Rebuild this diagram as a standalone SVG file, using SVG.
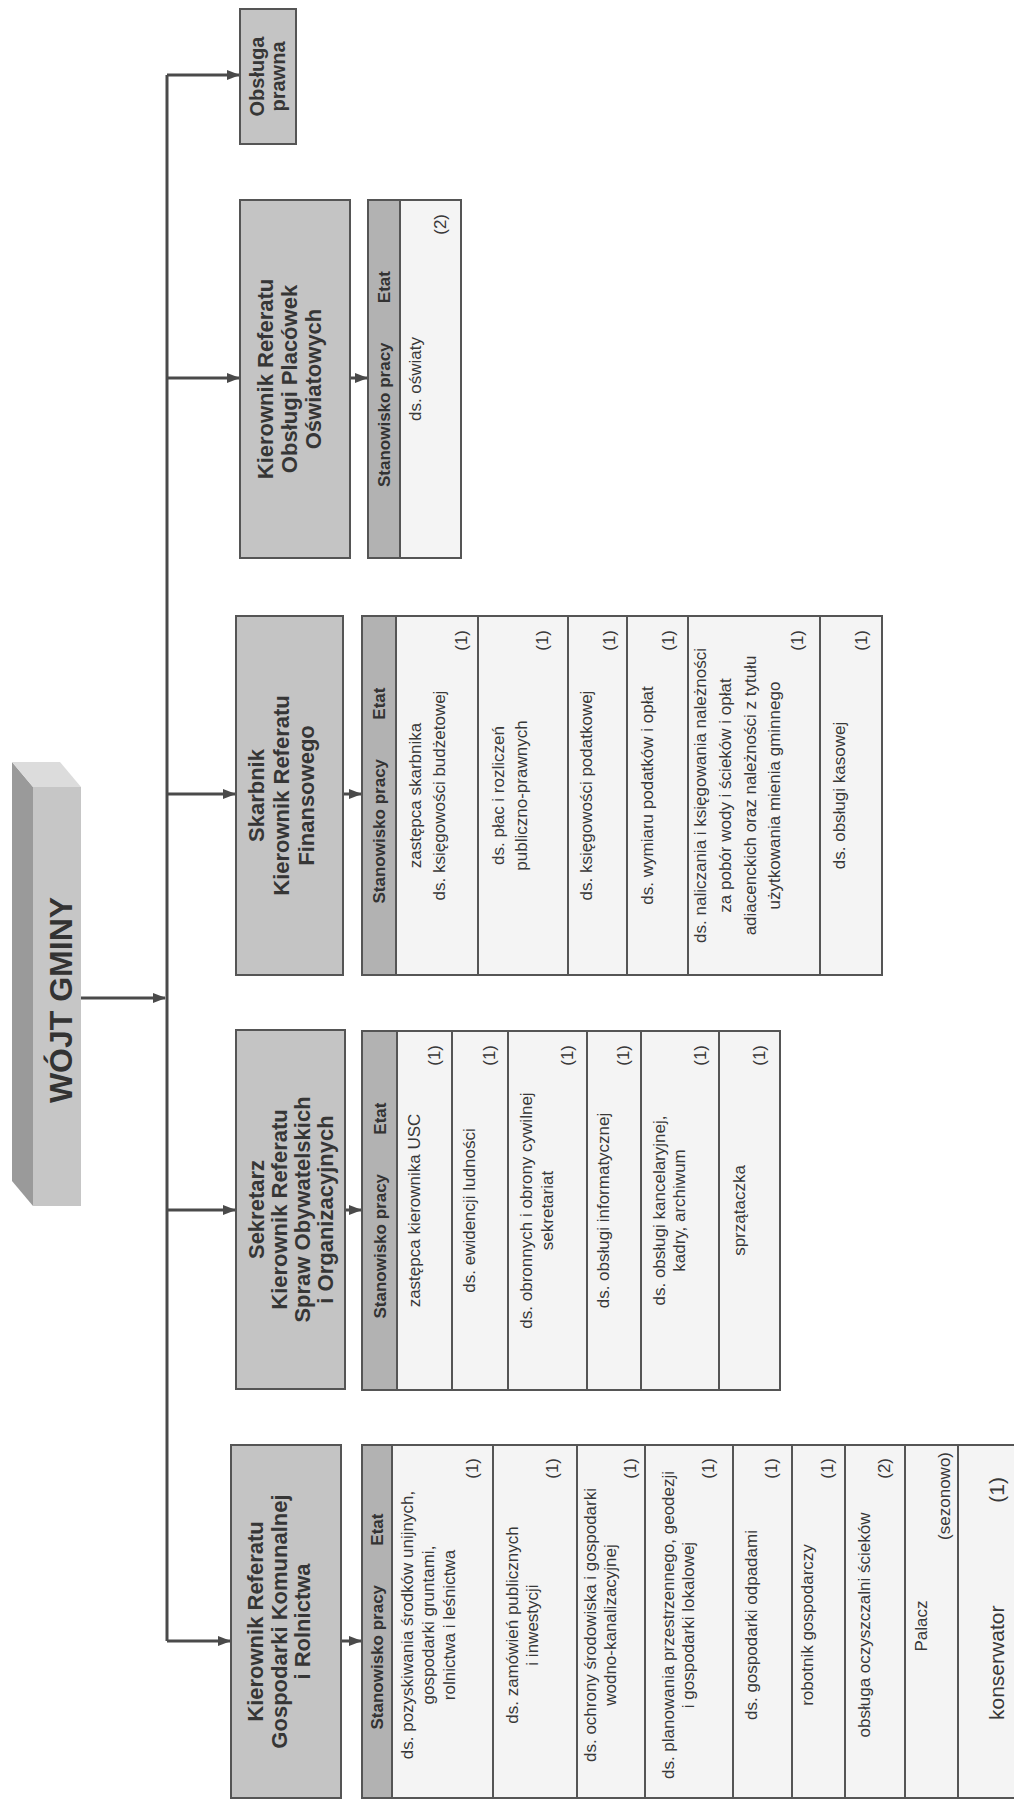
<svg xmlns="http://www.w3.org/2000/svg" width="1014" height="1801" viewBox="0 0 1014 1801">
<style>
.box{fill:#c4c4c4;stroke:#555;stroke-width:2}
.hdr{fill:#b2b2b2;stroke:#555;stroke-width:2}
.cell{fill:#f4f4f4;stroke:#555;stroke-width:2}
.sep{stroke:#555;stroke-width:2}
.conn{stroke:#4a4a4a;stroke-width:3;fill:none}
.t{font-family:"Liberation Sans",Arial,sans-serif;font-weight:bold;font-size:22px;fill:#363636;text-anchor:middle}
.h{font-family:"Liberation Sans",Arial,sans-serif;font-weight:bold;font-size:17px;fill:#333}
.b{font-family:"Liberation Sans",Arial,sans-serif;font-size:17px;fill:#383838;text-anchor:middle}
.n{font-family:"Liberation Sans",Arial,sans-serif;font-size:17px;fill:#383838;text-anchor:end}
</style>
<defs>
<marker id="arr" markerUnits="userSpaceOnUse" markerWidth="13" markerHeight="10" refX="12" refY="5" orient="auto"><path d="M0,0 L13,5 L0,10 z" fill="#4a4a4a"/></marker>
</defs>
<rect x="0" y="0" width="1014" height="1801" fill="#fff"/>
<g transform="translate(0,1801) rotate(-90)">

<g id="connectors">
<line class="conn" x1="160" y1="167" x2="1726" y2="167"/>
<line class="conn" x1="803" y1="81" x2="803" y2="165" marker-end="url(#arr)"/>
<line class="conn" x1="1726" y1="167" x2="1726" y2="239" marker-end="url(#arr)"/>
<line class="conn" x1="1423" y1="167" x2="1423" y2="239" marker-end="url(#arr)"/>
<line class="conn" x1="1007" y1="167" x2="1007" y2="235" marker-end="url(#arr)"/>
<line class="conn" x1="591" y1="167" x2="591" y2="235" marker-end="url(#arr)"/>
<line class="conn" x1="160" y1="167" x2="160" y2="230" marker-end="url(#arr)"/>
<line class="conn" x1="1423" y1="351" x2="1423" y2="367" marker-end="url(#arr)"/>
<line class="conn" x1="1007" y1="344" x2="1007" y2="361" marker-end="url(#arr)"/>
<line class="conn" x1="591" y1="346" x2="591" y2="361" marker-end="url(#arr)"/>
<line class="conn" x1="160" y1="342" x2="160" y2="361" marker-end="url(#arr)"/>
</g>

<g id="wojt">
<polygon points="1014,33 1039,12 620,12 595,33" fill="#9a9a9a"/>
<polygon points="1014,33 1014,81 1039,60 1039,12" fill="#dcdcdc"/>
<rect x="595" y="33" width="419" height="48" fill="#c6c6c6"/>
<text x="801" y="72" style="font-family:'Liberation Sans',Arial,sans-serif;font-weight:bold;font-size:32px;fill:#333;text-anchor:middle">WÓJT GMINY</text>
</g>

<g id="obsluga-prawna">
<rect class="box" x="1657" y="240" width="135" height="56"/>
<text class="t" style="font-size:20px" x="1724.5" y="264">Obsługa</text>
<text class="t" style="font-size:20px" x="1724.5" y="285">prawna</text>
</g>

<g id="oswiata">
<rect class="box" x="1243" y="240" width="358" height="110"/>
<text class="t" x="1422" y="273">Kierownik Referatu</text>
<text class="t" x="1422" y="297">Obsługi Placówek</text>
<text class="t" x="1422" y="321">Oświatowych</text>
</g>
<g id="oswiata-tabela">
<rect class="cell" x="1243" y="368" width="358" height="93"/>
<rect class="hdr" x="1243" y="368" width="358" height="32"/>
<text class="h" x="1314" y="390">Stanowisko pracy</text>
<text class="h" x="1530" y="390" text-anchor="end">Etat</text>
<text class="b" x="1422" y="421">ds. oświaty</text>
<text class="n" x="1587" y="446">(2)</text>
</g>

<g id="skarbnik">
<rect class="box" x="826" y="236" width="359" height="107"/>
<text class="t" x="1005.5" y="264">Skarbnik</text>
<text class="t" x="1005.5" y="289">Kierownik Referatu</text>
<text class="t" x="1005.5" y="314">Finansowego</text>
</g>
<g id="skarbnik-tabela">
<rect class="cell" x="826" y="362" width="359" height="520"/>
<rect class="hdr" x="826" y="362" width="359" height="34"/>
<text class="h" x="897.5" y="385">Stanowisko pracy</text>
<text class="h" x="1113.5" y="385" text-anchor="end">Etat</text>
<line class="sep" x1="826" y1="478" x2="1185" y2="478"/>
<line class="sep" x1="826" y1="568" x2="1185" y2="568"/>
<line class="sep" x1="826" y1="627" x2="1185" y2="627"/>
<line class="sep" x1="826" y1="688" x2="1185" y2="688"/>
<line class="sep" x1="826" y1="820" x2="1185" y2="820"/>
<text class="b" x="1005.5" y="421">zastępca skarbnika</text>
<text class="b" x="1005.5" y="445">ds. księgowości budżetowej</text>
<text class="n" x="1171" y="467">(1)</text>
<text class="b" x="1005.5" y="504">ds. płac i rozliczeń</text>
<text class="b" x="1005.5" y="527">publiczno-prawnych</text>
<text class="n" x="1171" y="548">(1)</text>
<text class="b" x="1005.5" y="591.5">ds. księgowości podatkowej</text>
<text class="n" x="1171" y="614.5">(1)</text>
<text class="b" x="1005.5" y="652.5">ds. wymiaru podatków i opłat</text>
<text class="n" x="1171" y="673.5">(1)</text>
<text class="b" x="1005.5" y="706">ds. naliczania i księgowania należności</text>
<text class="b" x="1005.5" y="731">za pobór wody i ścieków i opłat</text>
<text class="b" x="1005.5" y="756">adiacenckich oraz należności z tytułu</text>
<text class="b" x="1005.5" y="780">użytkowania mienia gminnego</text>
<text class="n" x="1171" y="803">(1)</text>
<text class="b" x="1005.5" y="845">ds. obsługi kasowej</text>
<text class="n" x="1171" y="867">(1)</text>
</g>

<g id="sekretarz">
<rect class="box" x="412" y="236" width="359" height="109"/>
<text class="t" x="591.5" y="264">Sekretarz</text>
<text class="t" x="591.5" y="287">Kierownik Referatu</text>
<text class="t" x="591.5" y="310">Spraw Obywatelskich</text>
<text class="t" x="591.5" y="333">i Organizacyjnych</text>
</g>
<g id="sekretarz-tabela">
<rect class="cell" x="411" y="362" width="359" height="418"/>
<rect class="hdr" x="411" y="362" width="359" height="35"/>
<text class="h" x="482.5" y="385.5">Stanowisko pracy</text>
<text class="h" x="698.5" y="385.5" text-anchor="end">Etat</text>
<line class="sep" x1="411" y1="452" x2="770" y2="452"/>
<line class="sep" x1="411" y1="508" x2="770" y2="508"/>
<line class="sep" x1="411" y1="587" x2="770" y2="587"/>
<line class="sep" x1="411" y1="641" x2="770" y2="641"/>
<line class="sep" x1="411" y1="719" x2="770" y2="719"/>
<text class="b" x="590.5" y="419.5">zastępca kierownika USC</text>
<text class="n" x="756" y="439.5">(1)</text>
<text class="b" x="590.5" y="475">ds. ewidencji ludności</text>
<text class="n" x="756" y="495">(1)</text>
<text class="b" x="590.5" y="532">ds. obronnych i obrony cywilnej</text>
<text class="b" x="590.5" y="552.5">sekretariat</text>
<text class="n" x="756" y="573">(1)</text>
<text class="b" x="590.5" y="609">ds. obsługi informatycznej</text>
<text class="n" x="756" y="629">(1)</text>
<text class="b" x="590.5" y="664.5">ds. obsługi kancelaryjnej,</text>
<text class="b" x="590.5" y="685">kadry, archiwum</text>
<text class="n" x="756" y="705.5">(1)</text>
<text class="b" x="590.5" y="744.5">sprzątaczka</text>
<text class="n" x="756" y="764.5">(1)</text>
</g>

<g id="gospodarka">
<rect class="box" x="3" y="231" width="353" height="110"/>
<text class="t" x="179.5" y="263">Kierownik Referatu</text>
<text class="t" x="179.5" y="287">Gospodarki Komunalnej</text>
<text class="t" x="179.5" y="310">i Rolnictwa</text>
</g>
<g id="gospodarka-tabela">
<rect class="cell" x="3" y="362" width="353" height="670"/>
<rect class="hdr" x="3" y="362" width="353" height="30"/>
<text class="h" x="71.5" y="383">Stanowisko pracy</text>
<text class="h" x="287.5" y="383" text-anchor="end">Etat</text>
<line class="sep" x1="3" y1="493" x2="356" y2="493"/>
<line class="sep" x1="3" y1="577" x2="356" y2="577"/>
<line class="sep" x1="3" y1="645" x2="356" y2="645"/>
<line class="sep" x1="3" y1="733" x2="356" y2="733"/>
<line class="sep" x1="3" y1="792" x2="356" y2="792"/>
<line class="sep" x1="3" y1="845" x2="356" y2="845"/>
<line class="sep" x1="3" y1="905" x2="356" y2="905"/>
<line class="sep" x1="3" y1="958" x2="356" y2="958"/>
<text class="b" x="176" y="413">ds. pozyskiwania środków unijnych,</text>
<text class="b" x="176" y="434">gospodarki gruntami,</text>
<text class="b" x="176" y="455">rolnictwa i leśnictwa</text>
<text class="n" x="343" y="478">(1)</text>
<text class="b" x="176" y="518">ds. zamówień publicznych</text>
<text class="b" x="176" y="538">i inwestycji</text>
<text class="n" x="343" y="558">(1)</text>
<text class="b" x="176" y="596">ds. ochrony środowiska i gospodarki</text>
<text class="b" x="176" y="616">wodno-kanalizacyjnej</text>
<text class="n" x="343" y="636">(1)</text>
<text class="b" x="176" y="674">ds. planowania przestrzennego, geodezji</text>
<text class="b" x="176" y="694">i gospodarki lokalowej</text>
<text class="n" x="343" y="714">(1)</text>
<text class="b" x="176" y="757">ds. gospodarki odpadami</text>
<text class="n" x="343" y="777">(1)</text>
<text class="b" x="176" y="813">robotnik gospodarczy</text>
<text class="n" x="343" y="833">(1)</text>
<text class="b" x="176" y="870">obsługa oczyszczalni ścieków</text>
<text class="n" x="343" y="890">(2)</text>
<text class="b" x="175" y="927">Palacz</text>
<text class="n" x="349" y="950">(sezonowo)</text>
<text class="b" x="81" y="1004" style="font-size:21px;text-anchor:start">konserwator</text>
<text class="n" x="324" y="1004" style="font-size:21px">(1)</text>
</g>

</g>
</svg>
